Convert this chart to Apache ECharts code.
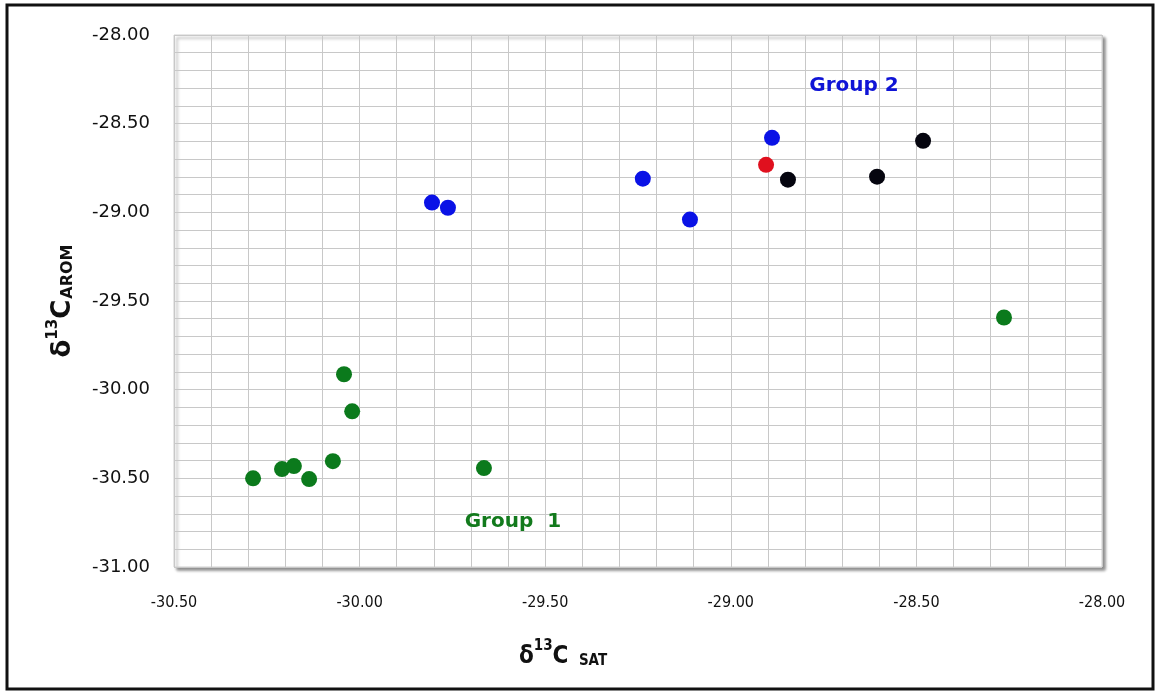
<!DOCTYPE html>
<html><head><meta charset="utf-8">
<script src="https://cdn.jsdelivr.net/npm/echarts@6/dist/echarts.min.js"></script>
<style>html,body{margin:0;padding:0;background:#fff}#c{width:1158px;height:694px}</style>
</head><body><div id="c"></div>
<script>
// Data (δ13C SAT, δ13C AROM)
const group1Green = [[-30.287,-30.50],[-30.209,-30.448],[-30.177,-30.431],[-30.136,-30.504],[-30.072,-30.403],[-30.042,-29.913],[-30.020,-30.122],[-29.665,-30.442],[-28.264,-29.593]];
const group2Blue = [[-29.805,-28.945],[-29.762,-28.974],[-29.237,-28.810],[-29.110,-29.041],[-28.889,-28.580]];
const redPoints = [[-28.905,-28.732]];
const blackPoints = [[-28.846,-28.816],[-28.606,-28.799],[-28.482,-28.597]];
const xTicks = [-30.5,-30.0,-29.5,-29.0,-28.5,-28.0];
const yTicks = [-31.0,-30.5,-30.0,-29.5,-29.0,-28.5,-28.0];
const annotations = [
  {text:'Group 2', pos:[-28.668,-28.287], color:'#0f14d6'},
  {text:'Group  1', pos:[-29.587,-30.746], color:'#127a1c'}
];

const COND = 'DejaVu Sans Condensed, Liberation Sans Narrow, sans-serif';
const chart = echarts.init(document.getElementById('c'));
const pt = (data,color)=>({type:'scatter',data,symbolSize:16,itemStyle:{color,opacity:1},z:5});
chart.setOption({
  animation:false,
  grid:{left:174,top:35,right:56,bottom:127,show:true,backgroundColor:'#fff',borderColor:'#d0d0d0',borderWidth:1,
    shadowColor:'rgba(0,0,0,0.45)',shadowBlur:3,shadowOffsetX:3,shadowOffsetY:3},
  xAxis:{type:'value',min:xTicks[0],max:xTicks[xTicks.length-1],interval:0.5,
    axisLine:{show:false},axisTick:{show:false},
    axisLabel:{margin:28,formatter:v=>v.toFixed(2),fontFamily:COND,fontSize:16,color:'#111'},
    splitLine:{show:true,lineStyle:{color:'#c8c8c8',width:1}},
    minorSplitLine:{show:true,lineStyle:{color:'#c8c8c8',width:1}},minorTick:{show:false,splitNumber:5},
    name:'{a|δ}{s|13}{a|C }{b|SAT}',nameLocation:'middle',nameGap:72,
    nameTextStyle:{padding:[0,150,0,0],rich:{
      a:{fontFamily:COND,fontWeight:'bold',fontSize:24,color:'#111',verticalAlign:'bottom',lineHeight:30},
      s:{fontFamily:COND,fontWeight:'bold',fontSize:15,color:'#111',verticalAlign:'top',lineHeight:30},
      b:{fontFamily:COND,fontWeight:'bold',fontSize:15,color:'#111',padding:[14,0,0,3],verticalAlign:'bottom',lineHeight:30}
    }}
  },
  yAxis:{type:'value',min:yTicks[0],max:yTicks[yTicks.length-1],interval:0.5,
    axisLine:{show:false},axisTick:{show:false},
    axisLabel:{margin:24,formatter:v=>v.toFixed(2),fontFamily:'DejaVu Sans, sans-serif',fontSize:18,color:'#111'},
    splitLine:{show:true,lineStyle:{color:'#c8c8c8',width:1}},
    minorSplitLine:{show:true,lineStyle:{color:'#c8c8c8',width:1}},minorTick:{show:false,splitNumber:5},
    name:'{a|δ}{s|13}{a|C}{b|AROM}',nameLocation:'middle',nameRotate:90,nameGap:98,
    nameTextStyle:{rich:{
      a:{fontFamily:'DejaVu Sans, sans-serif',fontWeight:'bold',fontSize:26,color:'#111',verticalAlign:'bottom',lineHeight:30},
      s:{fontFamily:'DejaVu Sans, sans-serif',fontWeight:'bold',fontSize:15,color:'#111',verticalAlign:'top',lineHeight:30},
      b:{fontFamily:'DejaVu Sans, sans-serif',fontWeight:'bold',fontSize:16,color:'#111',padding:[12,0,0,1],verticalAlign:'bottom',lineHeight:30}
    }}
  },
  series:[
    pt(group1Green,'#0b7a1c'),
    pt(group2Blue,'#0a12e6'),
    pt(redPoints,'#e0101e'),
    pt(blackPoints,'#05050f'),
    {type:'scatter',symbol:'circle',symbolSize:1,silent:true,z:6,itemStyle:{color:'rgba(0,0,0,0)',opacity:1},
      data:annotations.map(a=>({value:a.pos,label:{show:true,position:'inside',align:'center',verticalAlign:'middle',
        formatter:a.text,color:a.color,textBorderWidth:0,
        fontFamily:'DejaVu Sans, sans-serif',fontWeight:'bold',fontSize:20}}))}
  ],
  graphic:[{type:'rect',shape:{x:7,y:5,width:1146,height:684},style:{fill:'none',stroke:'#111',lineWidth:3},silent:true}]
});
</script></body></html>
